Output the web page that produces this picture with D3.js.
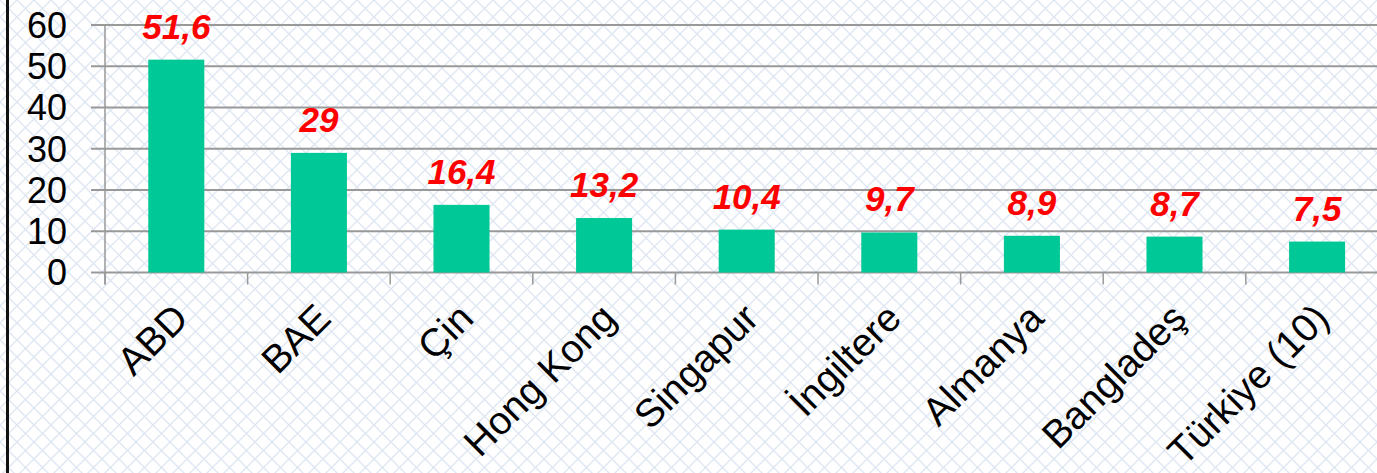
<!DOCTYPE html>
<html>
<head>
<meta charset="utf-8">
<script src="https://cdn.jsdelivr.net/npm/d3@7"></script>
<style>
  html, body { margin: 0; padding: 0; background: #fff; }
  svg { display: block; }
</style>
</head>
<body>
<div id="chart"></div>
<script>
// data
const categories = ["ABD", "BAE", "Çin", "Hong Kong", "Singapur", "İngiltere", "Almanya", "Bangladeş", "Türkiye (10)"];
const values = [51.6, 29, 16.4, 13.2, 10.4, 9.7, 8.9, 8.7, 7.5];
const yTicks = [0, 10, 20, 30, 40, 50, 60];

const width = 1377, height = 473;
const font = "Arial, 'Liberation Sans', sans-serif";

const svg = d3.select("#chart")
  .append("svg")
    .attr("width", width)
    .attr("height", height);

// diamond background pattern
const defs = svg.append("defs");
const pat = defs.append("pattern")
    .attr("id", "diamonds")
    .attr("width", 17)
    .attr("height", 17)
    .attr("patternUnits", "userSpaceOnUse");
pat.append("rect").attr("width", 17).attr("height", 17).attr("fill", "#fff");
pat.append("path")
    .attr("d", "M0,0L17,17M17,0L0,17")
    .attr("stroke", "#dfe7f3")
    .attr("stroke-width", 1.4)
    .attr("fill", "none");

svg.append("rect")
    .attr("width", width)
    .attr("height", height)
    .attr("fill", "url(#diamonds)");

// black line on the left edge
svg.append("rect")
    .attr("x", 6)
    .attr("y", 0)
    .attr("width", 3)
    .attr("height", height)
    .attr("fill", "#111");

const x0 = 105, x1 = 1388.4, yTop = 25, yBase = 272.5;

const x = d3.scaleBand()
  .domain(categories)
  .range([x0, x1])
  .paddingInner(0.607)
  .paddingOuter(0.3035);

const y = d3.scaleLinear()
  .domain([0, 60])
  .range([yBase, yTop]);

// gridlines
svg.append("g")
  .selectAll("line")
  .data(yTicks)
  .join("line")
    .attr("x1", 91)
    .attr("x2", width)
    .attr("y1", d => y(d))
    .attr("y2", d => y(d))
    .attr("stroke", "#999")
    .attr("stroke-width", 2);

// y axis line
svg.append("line")
    .attr("x1", x0).attr("x2", x0)
    .attr("y1", y(60)).attr("y2", yBase + 12)
    .attr("stroke", "#999")
    .attr("stroke-width", 1.5);

// y tick labels
svg.append("g")
  .selectAll("text")
  .data(yTicks)
  .join("text")
    .attr("x", 67)
    .attr("y", d => y(d))
    .attr("dy", "0.36em")
    .attr("text-anchor", "end")
    .attr("font-family", font)
    .attr("font-size", 36)
    .attr("fill", "#000")
    .text(d => d);

// x tick marks at band edges
const step = x.step();
svg.append("g")
  .selectAll("line")
  .data(d3.range(categories.length + 1))
  .join("line")
    .attr("x1", i => x0 + i * step)
    .attr("x2", i => x0 + i * step)
    .attr("y1", yBase)
    .attr("y2", yBase + 12)
    .attr("stroke", "#999")
    .attr("stroke-width", 1.5);

// bars
svg.append("g")
  .selectAll("rect")
  .data(values)
  .join("rect")
    .attr("x", (d, i) => x(categories[i]))
    .attr("y", d => y(d))
    .attr("width", x.bandwidth())
    .attr("height", d => y(0) - y(d))
    .attr("fill", "#00c896");

// value labels
svg.append("g")
  .selectAll("text")
  .data(values)
  .join("text")
    .attr("x", (d, i) => x(categories[i]) + x.bandwidth() / 2)
    .attr("y", d => y(d) - 21)
    .attr("text-anchor", "middle")
    .attr("font-family", font)
    .attr("font-size", 35)
    .attr("font-weight", "bold")
    .attr("font-style", "italic")
    .attr("fill", "#ff0000")
    .text(d => String(d).replace(".", ","));

// category labels, rotated
svg.append("g")
  .selectAll("text")
  .data(categories)
  .join("text")
    .attr("transform", d => `translate(${x(d) + x.bandwidth() / 2 + 14},${yBase + 48}) rotate(-45)`)
    .attr("text-anchor", "end")
    .attr("font-family", font)
    .attr("font-size", 39)
    .attr("fill", "#000")
    .text(d => d);
</script>
</body>
</html>
